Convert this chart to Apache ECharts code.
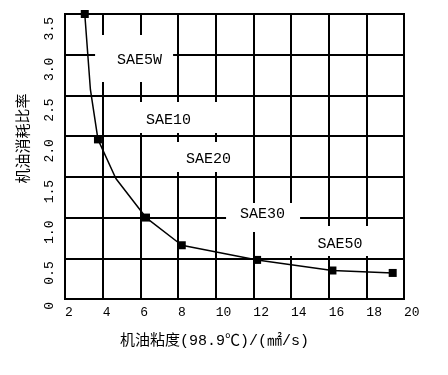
<!DOCTYPE html>
<html><head><meta charset="utf-8">
<script src="https://cdn.jsdelivr.net/npm/echarts@6/dist/echarts.min.js"></script>
<style>html,body{margin:0;padding:0;background:#fff}#c{width:448px;height:375px}</style>
</head><body><div id="c"></div>
<script>
// ---- data ----
const viscosity        = [3.05, 3.35, 3.75, 4.7, 6.3, 8.2, 12.2, 16.2, 19.4];
const consumptionRatio = [3.5, 2.57, 1.96, 1.48, 1.0, 0.66, 0.48, 0.35, 0.32];
const hasMarker        = [true, false, true, false, true, true, true, true, true];
const xTickLabels = ['2','4','6','8','10','12','14','16','18','20'];
const yTickLabels = ['0','0.5','1.0','1.5','2.0','2.5','3.0','3.5'];
const gradeNames = ['SAE5W','SAE10','SAE20','SAE30','SAE50'];
const gradeX     = [5.96, 7.50, 9.62, 12.49, 16.60];
const gradeY     = [2.935, 2.204, 1.713, 1.044, 0.675];
const xName = '机油粘度(98.9℃)/(㎟/s)';
const yName = '机油消耗比率';

// ---- styling of the label boxes (pixels) ----
const boxStyle = [
  {size:[78,47], off:[-5.5,-1.5]},
  {size:[115,31], off:[14,-2]},
  {size:[90,30], off:[-3.5,-2.5]},
  {size:[74,29], off:[0.5,3.5]},
  {size:[97,30], off:[-3.5,-3]}
];

const FONT_MONO = "'Liberation Mono', 'Noto Sans CJK SC', monospace";

const lineData = viscosity.map((x, i) => ({
  value: [x, consumptionRatio[i]],
  symbol: hasMarker[i] ? 'rect' : 'none'
}));

const gradeData = gradeNames.map((n, i) => ({
  name: n,
  value: [gradeX[i], gradeY[i]],
  symbolSize: boxStyle[i].size,
  symbolOffset: boxStyle[i].off,
  label: {offset: [-boxStyle[i].off[0], -boxStyle[i].off[1]]}
}));

const chart = echarts.init(document.getElementById('c'), null, {renderer: 'canvas'});
chart.setOption({
  animation: false,
  backgroundColor: '#fff',
  grid: {left: 65, top: 14, width: 339, height: 285, show: true,
         borderColor: '#000', borderWidth: 2, backgroundColor: 'transparent'},
  xAxis: {
    type: 'value', min: 2, max: 20, interval: 2,
    axisLine: {show: false}, axisTick: {show: false},
    splitLine: {show: true, lineStyle: {color: '#000', width: 2}},
    axisLabel: {
      margin: 7, align: 'left', color: '#000',
      fontFamily: FONT_MONO, fontSize: 13,
      formatter: v => xTickLabels[Math.round((v - 2) / 2)]
    },
    name: xName, nameLocation: 'middle', nameGap: 35,
    nameTextStyle: {color: '#000', fontFamily: FONT_MONO, fontSize: 15, padding: [0, 40, 0, 0]}
  },
  yAxis: {
    type: 'value', min: 0, max: 3.5, interval: 0.5,
    axisLine: {show: false}, axisTick: {show: false},
    splitLine: {show: true, lineStyle: {color: '#000', width: 2}},
    axisLabel: {
      rotate: 90, margin: 9, align: 'right', color: '#000',
      fontFamily: FONT_MONO, fontSize: 13, padding: [0, 3, 0, 0],
      formatter: v => yTickLabels[Math.round(v / 0.5)]
    },
    name: yName, nameLocation: 'middle', nameGap: 35, nameRotate: 90,
    nameTextStyle: {color: '#000', fontFamily: "'Noto Sans CJK SC'", fontSize: 15, padding: [0, 0, 0, 36]}
  },
  series: [
    {
      type: 'scatter', z: 2, silent: true, symbol: 'rect',
      itemStyle: {color: '#fff', opacity: 1, borderWidth: 0},
      label: {show: true, position: 'inside', formatter: '{b}', color: '#000',
              fontFamily: FONT_MONO, fontSize: 15},
      emphasis: {disabled: true},
      data: gradeData
    },
    {
      type: 'line', z: 3, silent: true, clip: false,
      symbolSize: 8, showSymbol: true,
      itemStyle: {color: '#000', opacity: 1},
      lineStyle: {color: '#000', width: 1.5},
      emphasis: {disabled: true},
      data: lineData
    }
  ]
});
</script>
</body></html>
